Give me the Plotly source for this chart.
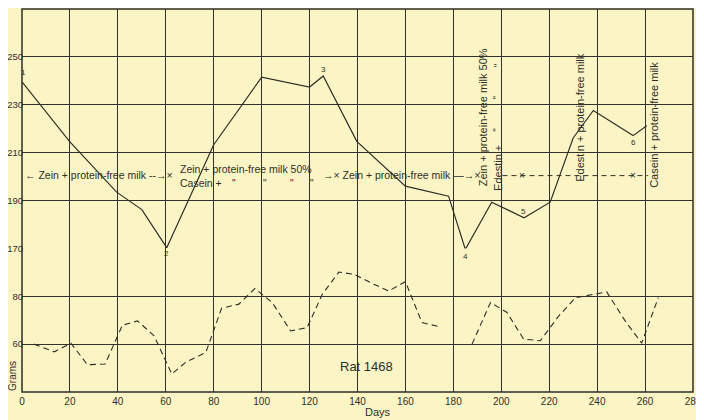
import plotly.graph_objects as go

# ---- data ----
x_ticks = [0, 20, 40, 60, 80, 100, 120, 140, 160, 180, 200, 220, 240, 260, 280]
upper_ticks = [170, 190, 210, 230, 250, 270]
upper_labels = ["170", "190", "210", "230", "250", ""]
lower_ticks = [40, 60, 80, 100]
lower_labels = ["", "60", "80", ""]

weight_days = [0, 20, 39.5, 50, 60.4, 80, 100, 120, 125.7, 139.7, 160, 178, 185,
               196, 209.5, 220.4, 230, 238.4, 255, 260.7]
weight_grams = [239.6, 214.5, 193.5, 186.2, 170.3, 213.3, 241.5, 237.4, 242.0, 214.7,
                196.0, 191.8, 169.6, 189.3, 182.8, 189.3, 216.1, 227.6, 217.1, 221.2]

lower_days = [5, 13.5, 20.4, 27.3, 34.7, 41.9, 48.2, 55.1, 62.5, 68.3, 76.7, 83.3,
              90.5, 97.2, 104.4, 112.1, 119, 125.3, 132.2, 138.5, 146.8, 153, 160,
              166.9, 174.6, None, 187.8, 195.5, 202.4, 209.3, 216.3, 224, 231, 244,
              251.7, 258.6, 265.5]
lower_grams = [60, 56.8, 60.4, 51.4, 51.7, 67.9, 69.7, 63.5, 47.5, 52.4, 56.5, 75,
               76.7, 83.2, 77.4, 65.5, 66.9, 80.8, 90.1, 89.2, 85, 82.2, 86.1, 69,
               67.2, None, 60, 77.4, 73.2, 62.1, 61.4, 71.8, 79.4, 81.8, 69.7, 60.4,
               79.4]

INK = "#2e2e27"
BG = "#fbf5c6"
FONT = "Liberation Sans"

fig = go.Figure()
fig.add_trace(go.Scatter(x=weight_days, y=weight_grams, mode="lines", yaxis="y2",
                         line=dict(color=INK, width=1.2), showlegend=False))
fig.add_trace(go.Scatter(x=lower_days, y=lower_grams, mode="lines", yaxis="y",
                         connectgaps=False,
                         line=dict(color=INK, width=1.1, dash="6px,4px"), showlegend=False))

grid = dict(showgrid=True, gridcolor="#33332b", gridwidth=1.4, zeroline=False,
            ticks="", showline=False, automargin=False)
yfont = dict(family=FONT, size=9.5, color=INK)

# page body has an 8px margin, so the figure is 8px smaller and margins shifted
fig.update_layout(
    width=696, height=412,
    margin=dict(l=14, r=11, t=1, b=28, autoexpand=False),
    paper_bgcolor=BG, plot_bgcolor=BG,
    font=dict(family=FONT, color=INK),
    xaxis=dict(range=[0, 280], tickvals=x_ticks, anchor="y", ticklabelstandoff=2,
               tickfont=dict(family=FONT, size=10, color=INK), **grid),
    yaxis=dict(range=[40, 100], domain=[0, 0.375], tickvals=lower_ticks,
               ticktext=lower_labels, anchor="x", ticklabelstandoff=-2,
               tickfont=yfont, **grid),
    yaxis2=dict(range=[170, 270], domain=[0.375, 1], tickvals=upper_ticks,
                ticktext=upper_labels, anchor="x", ticklabelstandoff=-2,
                tickfont=yfont, **grid),
)

# border
fig.add_shape(type="rect", xref="paper", yref="paper", x0=0, x1=1, y0=0, y1=1,
              line=dict(color=INK, width=1.5))
# dashed diet bracket
fig.add_shape(type="line", xref="x", yref="y2", x0=200.5, x1=261.3, y0=200.4, y1=200.4,
              line=dict(color=INK, width=1, dash="5px,4px"))

def note(text, x, y, yref="y2", size=10, angle=0, xanchor="center", yanchor="middle", xref="x"):
    fig.add_annotation(text=text, x=x, y=y, xref=xref, yref=yref, showarrow=False,
                       textangle=angle, xanchor=xanchor, yanchor=yanchor,
                       font=dict(family=FONT, size=size, color=INK))

note("← Zein + protein-free milk --→×", 0.3, 200.8, xanchor="left", size=10.5)
note("Zein + protein-free milk 50%", 65.1, 203.3, xanchor="left", size=10.5)
note("Casein +", 65.1, 197.4, xanchor="left", size=10.5)
for d in [88.5, 101.4, 112.7, 121]:
    note('"', d, 197.0, size=10)
note("→× Zein + protein-free milk —→×", 124.8, 200.8, xanchor="left", size=10.5)
for d in [208.7, 255]:
    note("×", d, 200.4, size=10)

note("Zein + protein-free milk 50%", 192.4, 224.8, angle=-90, size=11)
note("Edestin +", 198.3, 203.7, angle=-90, size=11)
for g in [219.5, 233, 246.5]:
    note('"', 198.6, g, angle=-90, size=10)
note("Edestin + protein-free milk", 232.9, 224.6, angle=-90, size=11)
note("Casein + protein-free milk", 263.4, 221.7, angle=-90, size=11)

# point numbers
note("1", 0.8, 243.5, size=8)
note("2", 60.4, 97.8, yref="y", size=8)
note("3", 126.0, 244.6, size=8)
note("4", 185.0, 96.6, yref="y", size=8)
note("5", 209.3, 185.6, size=8)
note("6", 255.0, 214.4, size=8)

note("Rat 1468", 143.6, 50.8, yref="y", size=13)
note("Days", 0.5306, -0.052, xref="paper", yref="paper", size=11)
note("Grams", -0.0134, 0.042, xref="paper", yref="paper", size=10, angle=-90)

fig.write_html("out.html")
